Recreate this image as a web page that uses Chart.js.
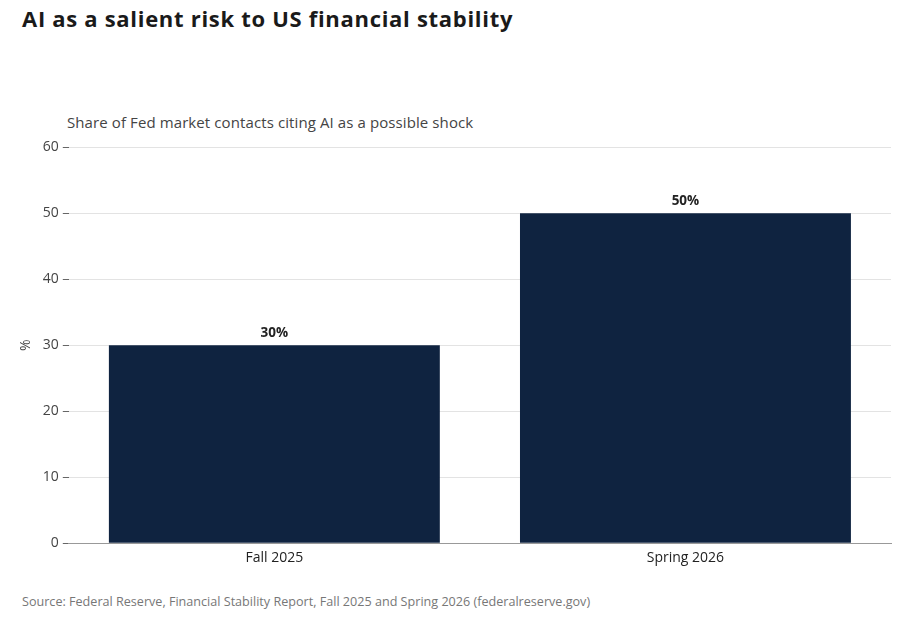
<!DOCTYPE html>
<html>
<head>
<meta charset="utf-8">
<script src="https://cdn.jsdelivr.net/npm/chart.js@4"></script>
<style>
  body { margin: 0; background: #fff; font-family: "Open Sans", sans-serif; }
  #title { position: absolute; left: 22px; top: 3px; font-size: 22px; font-weight: bold; color: #1a1a1a; letter-spacing: 0.7px; }
  #sub { position: absolute; left: 67px; top: 112px; font-size: 15px; color: #444; letter-spacing: 0.1px; }
  #src { position: absolute; left: 22px; top: 593px; font-size: 12.6px; color: #777; }
  #wrap { position: absolute; left: 0; top: 135px; width: 901px; height: 437px; }
</style>
</head>
<body>
<div id="title">AI as a salient risk to US financial stability</div>
<div id="sub">Share of Fed market contacts citing AI as a possible shock</div>
<div id="wrap"><canvas id="c"></canvas></div>
<div id="src">Source: Federal Reserve, Financial Stability Report, Fall 2025 and Spring 2026 (federalreserve.gov)</div>
<script>
// Data
const categories = ['Fall 2025', 'Spring 2026'];
const shares = [30, 50];

const barLabels = {
    id: 'barLabels',
    afterDatasetsDraw(chart) {
        const ctx = chart.ctx;
        chart.getDatasetMeta(0).data.forEach((bar, i) => {
            ctx.save();
            ctx.font = 'bold 13.5px "Open Sans"';
            ctx.fillStyle = '#222';
            ctx.textAlign = 'center';
            ctx.textBaseline = 'bottom';
            ctx.fillText(shares[i] + '%', bar.x, bar.y - 5);
            ctx.restore();
        });
    }
};

new Chart(document.getElementById('c'), {
    type: 'bar',
    data: {
        labels: categories,
        datasets: [{
            data: shares,
            backgroundColor: '#0f2340',
            categoryPercentage: 1,
            barPercentage: 0.805
        }]
    },
    options: {
        responsive: true,
        maintainAspectRatio: false,
        animation: false,
        layout: { padding: { left: 14, right: 10, top: 7, bottom: 0 } },
        plugins: { legend: { display: false }, tooltip: { enabled: false } },
        scales: {
            x: {
                grid: { display: false, drawTicks: false },
                border: { color: '#999' },
                ticks: { color: '#222', font: { family: 'Open Sans', size: 14 }, padding: 6 }
            },
            y: {
                min: 0, max: 60,
                ticks: { stepSize: 10, color: '#444', font: { family: 'Open Sans', size: 14 }, padding: 4 },
                grid: { color: '#e3e3e3', tickLength: 6, tickColor: '#666' },
                border: { display: false },
                title: { display: true, text: '%', color: '#444', font: { family: 'Open Sans', size: 14 } }
            }
        }
    },
    plugins: [barLabels]
});
</script>
</body>
</html>
